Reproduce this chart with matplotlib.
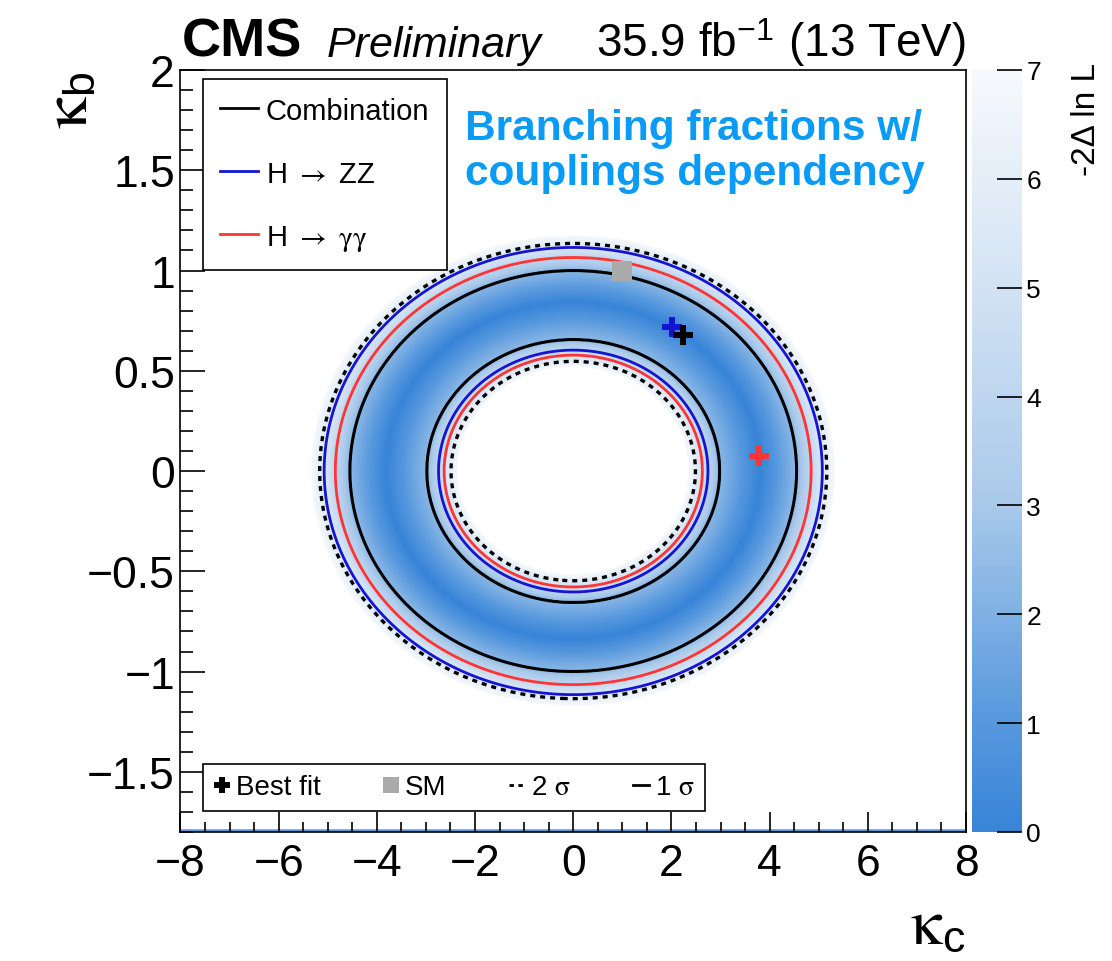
import numpy as np
import matplotlib
matplotlib.use("Agg")
import matplotlib.pyplot as plt
from matplotlib.colors import LinearSegmentedColormap, Normalize
from matplotlib.lines import Line2D

plt.rcParams['font.family'] = ['Liberation Sans', 'DejaVu Sans']
plt.rcParams['mathtext.fontset'] = 'custom'
plt.rcParams['mathtext.rm'] = 'STIXGeneral'
plt.rcParams['mathtext.it'] = 'STIXGeneral:italic'
plt.rcParams['mathtext.bf'] = 'STIXGeneral:bold'
plt.rcParams['mathtext.sf'] = 'Liberation Sans'

# plot ranges
kc_range = [-8, 8]
kb_range = [-1.8, 2.0]

# contours are ellipses: one unit of kappa_b matches this much kappa_c
kc_per_kb = 4.55

# -2 Delta lnL profile vs. elliptical radius (radius = kappa_b at kappa_c = 0)
comb_r = [0.547, 0.655, 0.838, 1.000, 1.135]
comb_nll = [5.99, 2.30, 0.00, 2.30, 5.99]
zz_r = [0.603, 0.846, 1.115]
zz_nll = [2.30, 0.00, 2.30]
gg_r = [0.578, 0.836, 1.065]
gg_nll = [2.30, 0.00, 2.30]

# best fit points (kappa_c, kappa_b) and SM
best_comb = (2.24, 0.68)
best_zz = (2.02, 0.72)
best_gg = (3.79, 0.075)
sm_point = (1.0, 1.0)

cmap_colors = ['#3884d8', '#5899de', '#a9c9ea', '#d3e3f4', '#f6f9fc']
cmap_nodes = [0.0, 0.15, 0.43, 0.72, 1.0]


def nll_profile(r, r_knots, nll_knots):
    # piecewise linear in r, extended linearly past the end knots
    rk = np.asarray(r_knots)
    vk = np.asarray(nll_knots)
    out = np.interp(r, rk, vk)
    lo = r < rk[0]
    hi = r > rk[-1]
    s_lo = (vk[1] - vk[0]) / (rk[1] - rk[0])
    s_hi = (vk[-1] - vk[-2]) / (rk[-1] - rk[-2])
    out[lo] = vk[0] + s_lo * (r[lo] - rk[0])
    out[hi] = vk[-1] + s_hi * (r[hi] - rk[-1])
    return out


kc = np.linspace(kc_range[0], kc_range[1], 1400)
kb = np.linspace(kb_range[0], kb_range[1], 1000)
KC, KB = np.meshgrid(kc, kb)
R = np.sqrt((KC / kc_per_kb) ** 2 + KB ** 2)

comb = nll_profile(R, comb_r, comb_nll)
zz = nll_profile(R, zz_r, zz_nll)
gg = nll_profile(R, gg_r, gg_nll)

cmap = LinearSegmentedColormap.from_list('nll', list(zip(cmap_nodes, cmap_colors)))
cmap.set_over('white')
norm = Normalize(vmin=0, vmax=7)

fig = plt.figure(figsize=(11.12, 9.62), dpi=100)
ax = fig.add_axes([0.1623, 0.1341, 0.7064, 0.7921])
cax = fig.add_axes([0.8741, 0.1341, 0.045, 0.7921])

im = ax.imshow(comb, origin='lower', extent=kc_range + kb_range, aspect='auto',
               cmap=cmap, norm=norm, interpolation='bilinear', zorder=0)
ax.axhline(kb_range[0], color='#5c9be0', lw=4, zorder=1)

dash = (0, (1.5, 1.5))
ax.contour(KC, KB, comb, levels=[5.99], colors='k', linewidths=2.4,
           linestyles=[dash], zorder=3)
ax.contour(KC, KB, zz, levels=[2.30], colors='#1414d2', linewidths=2.0, zorder=3)
ax.contour(KC, KB, gg, levels=[2.30], colors='#ff3535', linewidths=2.0, zorder=3)
ax.contour(KC, KB, comb, levels=[2.30], colors='k', linewidths=2.2, zorder=4)

ax.plot(*best_zz, marker='P', color='#1414d2', ms=14, mew=0, ls='none', zorder=5)
ax.plot(*best_comb, marker='P', color='k', ms=14, mew=0, ls='none', zorder=6)
ax.plot(*best_gg, marker='P', color='#ff3535', ms=14, mew=0, ls='none', zorder=5)
ax.plot(*sm_point, marker='s', color='#aaaaaa', ms=14, mew=0, ls='none', zorder=6)

ax.set_xlim(kc_range)
ax.set_ylim(kb_range)
ax.set_xticks(np.arange(-8, 9, 2))
ax.set_xticks(np.arange(-8, 8.01, 0.5), minor=True)
ax.set_yticks(np.arange(-1.5, 2.01, 0.5))
ax.set_yticks(np.arange(-1.8, 2.001, 0.1), minor=True)
ax.set_yticklabels(['\u22121.5', '\u22121', '\u22120.5', '0', '0.5', '1', '1.5', '2'])
ax.tick_params(axis='both', which='both', direction='in', top=False, right=False,
               width=1.2, labelsize=32, colors='k')
ax.tick_params(axis='x', which='major', length=14.5, pad=8)
ax.tick_params(axis='x', which='minor', length=7.2)
ax.tick_params(axis='y', which='major', length=18, pad=4)
ax.tick_params(axis='y', which='minor', length=9.5)
for s in ax.spines.values():
    s.set_linewidth(1.2)

ax.set_xlabel(r'$\mathrm{\kappa}_{\mathsf{c}}$', fontsize=46, loc='right')
ax.xaxis.set_label_coords(1.0, -0.083)
ax.set_ylabel(r'$\mathrm{\kappa}_{\mathsf{b}}$', fontsize=46, loc='top')
ax.yaxis.set_label_coords(-0.103, 1.0)

# channel legend
chan_handles = [Line2D([], [], color='k', lw=2),
                Line2D([], [], color='#1414d2', lw=2),
                Line2D([], [], color='#ff3535', lw=2)]
chan_labels = ['Combination', r'H $\rightarrow$ ZZ', r'H $\rightarrow$ $\mathrm{\gamma\gamma}$']
leg1 = ax.legend(chan_handles, chan_labels, loc='upper left',
                 bbox_to_anchor=(0.0286, 0.988), borderaxespad=0, fontsize=21,
                 frameon=True, fancybox=False, edgecolor='k', framealpha=1,
                 borderpad=0.6, labelspacing=1.2, handlelength=1.3,
                 handletextpad=0.26)
leg1.get_frame().set_linewidth(1.2)
ax.add_artist(leg1)

# marker / line style legend
style_handles = [Line2D([], [], marker='P', color='k', ms=12, mew=0, ls='none'),
                 Line2D([], [], marker='s', color='#aaaaaa', ms=12, mew=0, ls='none'),
                 Line2D([], [], color='k', lw=2, ls=(0, (1.6, 1.6))),
                 Line2D([], [], color='k', lw=2)]
style_labels = ['Best fit', 'SM', r'2 $\mathrm{\sigma}$', r'1 $\mathrm{\sigma}$']
leg2 = ax.legend(style_handles, style_labels, loc='lower left', ncol=4,
                 bbox_to_anchor=(0.0286, 0.0276, 0.639, 0.064), mode='expand',
                 borderaxespad=0, fontsize=20, frameon=True, fancybox=False,
                 edgecolor='k', framealpha=1, borderpad=0.38, handlelength=0.6,
                 handletextpad=0.2)
leg2.get_frame().set_linewidth(1.2)

ax.text(0.362, 0.95, 'Branching fractions w/\ncouplings dependency',
        transform=ax.transAxes, ha='left', va='top', fontsize=30.5,
        fontweight='bold', color='#0a9bf7', linespacing=1.15)

cb = fig.colorbar(im, cax=cax, ticks=range(8))
cb.outline.set_visible(False)
cax.tick_params(direction='in', length=18, width=1.2, labelsize=19, pad=3)

fig.text(0.1637, 0.941, 'CMS', fontsize=39, fontweight='bold', ha='left', va='baseline')
fig.text(0.294, 0.941, 'Preliminary', fontsize=31, style='italic', ha='left', va='baseline')
fig.text(0.8687, 0.941, '35.9 fb$^{\\mathsf{-1}}$ (13 TeV)', fontsize=33,
         ha='right', va='baseline')
fig.text(0.977, 0.934, '-2\u0394 ln L', fontsize=24, rotation=90, ha='center', va='top')

fig.savefig('out.png', dpi=100)
